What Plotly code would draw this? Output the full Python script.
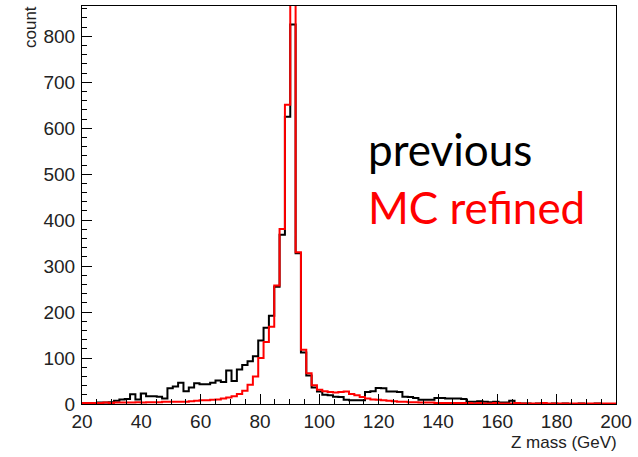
import plotly.graph_objects as go

# Histogram binning (ROOT-style TH1: 100 bins from 20 to 200 GeV)
n_bins = 100
x_min = 20.0
x_max = 200.0

# "previous" counts per bin
previous = [1, 2, 2, 3, 3, 4, 7, 10, 11, 21,
            10, 23, 17, 17, 16, 12, 34, 38, 46, 28,
            36, 45, 43, 43, 46, 51, 48, 73, 50, 75,
            85, 93, 104, 138, 166, 192, 255, 368, 625, 826,
            328, 112, 62, 36, 27, 20, 19, 16, 15, 9,
            8, 8, 8, 26, 28, 35, 34, 27, 27, 26,
            16, 15, 13, 9, 9, 9, 13, 13, 12, 12,
            12, 11, 5, 5, 6, 5, 4, 5, 3, 3,
            7, 2, 1, 1, 0, 1, 1, 0, 1, 0,
            1, 0, 0, 1, 0, 0, 1, 0, 0, 0]

# "MC refined" counts per bin
mc_refined = [2, 2, 2, 2, 3, 2, 3, 3, 3, 3,
              4, 3, 4, 4, 4, 5, 5, 5, 5, 5,
              6, 7, 8, 8, 9, 10, 12, 14, 17, 22,
              29, 42, 60, 100, 135, 168, 258, 381, 651, 900,
              330, 118, 67, 41, 31, 28, 26, 25, 26, 27,
              22, 19, 15, 12, 10, 9, 8, 7, 6, 5,
              5, 4, 4, 3, 3, 3, 2, 2, 2, 2,
              2, 2, 2, 1, 2, 1, 1, 2, 1, 1,
              1, 2, 1, 1, 1, 1, 2, 1, 1, 1,
              1, 1, 1, 1, 1, 1, 1, 1, 1, 1]

x_ticks = [20, 40, 60, 80, 100, 120, 140, 160, 180, 200]
y_ticks = [0, 100, 200, 300, 400, 500, 600, 700, 800]
y_max = 866

bin_w = (x_max - x_min) / n_bins
edges = [x_min + i * bin_w for i in range(n_bins + 1)]


def step_xy(vals):
    xs = edges[:]
    ys = list(vals) + [vals[-1]]
    return xs, ys


fig = go.Figure()
for vals, col, name in [(previous, "black", "previous"), (mc_refined, "#ff0000", "MC refined")]:
    xs, ys = step_xy(vals)
    fig.add_trace(go.Scatter(x=xs, y=ys, mode="lines", line=dict(color=col, width=2, shape="hv"),
                             name=name, showlegend=False, cliponaxis=True))

tick_font = dict(family="Liberation Sans, Arial, sans-serif", size=19, color="#222222")

fig.update_layout(
    width=638, height=457,
    margin=dict(l=82, r=22, t=6, b=53),
    paper_bgcolor="white", plot_bgcolor="white",
    xaxis=dict(range=[x_min, x_max], tickvals=x_ticks, ticks="inside", ticklen=10, tickwidth=1,
               tickcolor="black", showline=True, mirror=True, linecolor="black", linewidth=1,
               showgrid=False, zeroline=False, tickfont=tick_font, automargin=False,
               ticklabelstandoff=0,
               minor=dict(ticks="inside", ticklen=5, dtick=5, tickcolor="black", showgrid=False)),
    yaxis=dict(range=[0, y_max], tickvals=y_ticks, ticks="inside", ticklen=10, tickwidth=1,
               tickcolor="black", showline=True, mirror=True, linecolor="black", linewidth=1,
               showgrid=False, zeroline=False, tickfont=tick_font, automargin=False,
               ticklabelstandoff=2,
               minor=dict(ticks="inside", ticklen=5, dtick=20, tickcolor="black", showgrid=False)),
)

label_font = dict(family="Liberation Sans, Arial, sans-serif", size=17, color="#222222")
fig.add_annotation(text="count", xref="paper", yref="paper", x=(30 - 82) / 534, y=1.0 + 2 / 398,
                   xanchor="center", yanchor="top", textangle=-90, showarrow=False, font=label_font)
fig.add_annotation(text="Z mass (GeV)", xref="paper", yref="paper", x=1.0 + 3 / 534, y=-(442 - 404) / 398,
                   xanchor="right", yanchor="middle", showarrow=False, font=label_font)
fig.add_annotation(text="previous", xref="paper", yref="paper", x=(366 - 82) / 534, y=1 - (149 - 6) / 398,
                   xanchor="left", yanchor="middle", showarrow=False,
                   font=dict(family="Lato, sans-serif", size=44, color="black"))
fig.add_annotation(text="MC refined", xref="paper", yref="paper", x=(366 - 82) / 534, y=1 - (207 - 6) / 398,
                   xanchor="left", yanchor="middle", showarrow=False,
                   font=dict(family="Lato, sans-serif", size=44, color="#ff0000"))

fig.write_html("out.html", config={"displayModeBar": False},
               post_script="document.body.style.margin='0';")
